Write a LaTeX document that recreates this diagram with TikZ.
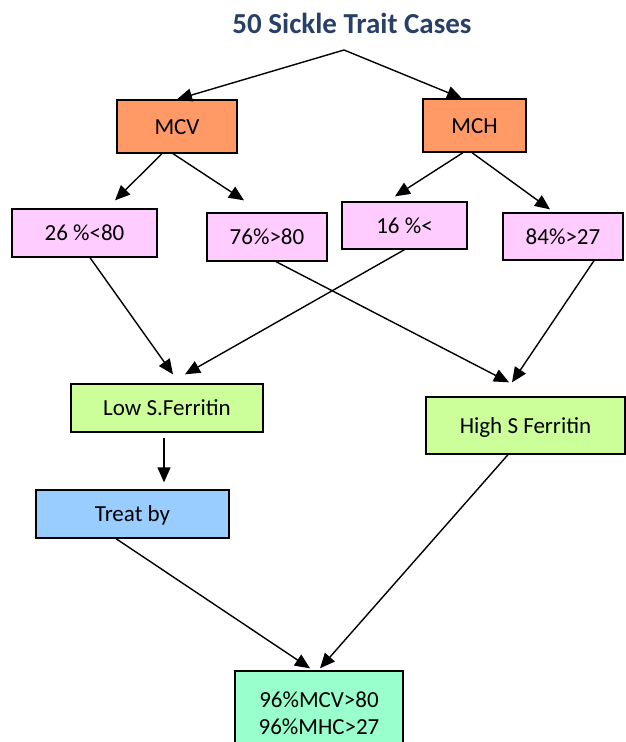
\documentclass[tikz,border=0pt]{standalone}
\usepackage{fontspec}
\setmainfont{Carlito}
\usetikzlibrary{arrows.meta}
\definecolor{title_blue}{RGB}{40,64,104}
\definecolor{orange_box}{RGB}{255,153,102}
\definecolor{pink_box}{RGB}{255,204,255}
\definecolor{green_box}{RGB}{204,255,153}
\definecolor{blue_box}{RGB}{153,204,255}
\definecolor{mint_box}{RGB}{153,255,204}

\begin{document}
\begin{tikzpicture}[x=1pt,y=-1pt,
	box/.style={draw=black,line width=1.3pt,inner sep=0pt,font=\fontsize{23}{28}\selectfont,text height=15pt,text depth=0pt},
	link/.style={black,line width=1.4pt,-{Triangle[length=15pt,width=13pt]}}]
	\useasboundingbox (0,0) rectangle (626,742);
	\clip (0,0) rectangle (626,742);

	\node[anchor=base,text=title_blue,font=\fontsize{29}{34}\selectfont\bfseries] (title) at (352,33) {50 Sickle Trait Cases};
	\coordinate (top) at (344,50);

	\node[box,fill=orange_box,minimum width=120pt,minimum height=53pt] (mcv) at (177,126.5) {MCV};
	\node[box,fill=orange_box,minimum width=103pt,minimum height=53pt] (mch) at (474.5,125.5) {MCH};

	\node[box,fill=pink_box,minimum width=145pt,minimum height=48pt] (p26) at (84.5,233) {26 \%<80};
	\node[box,fill=pink_box,minimum width=120pt,minimum height=48pt] (p76) at (267,237) {76\%>80};
	\node[box,fill=pink_box,minimum width=125pt,minimum height=47pt] (p16) at (404.5,225.5) {16 \%<};
	\node[box,fill=pink_box,minimum width=120pt,minimum height=47pt] (p84) at (563,236.5) {84\%>27};

	\node[box,fill=green_box,minimum width=192pt,minimum height=48pt] (low) at (167,408) {Low S.Ferritin};
	\node[box,fill=green_box,minimum width=199pt,minimum height=57pt] (high) at (525.5,425.5) {High S Ferritin};
	\node[box,fill=blue_box,minimum width=193pt,minimum height=48pt] (treat) at (132.5,514) {Treat by};

	\node[draw=black,line width=1.3pt,fill=mint_box,inner sep=0pt,align=center,
		font=\fontsize{23}{27}\selectfont,minimum width=168pt,minimum height=85pt] (result) at (319,713.5) {96\%MCV>80\\96\%MHC>27};

	% top split
	\draw[link] (top) -- (mcv.north);
	\draw[link] (top) -- ([xshift=-12.5pt]mch.north);

	% MCV and MCH
	\draw[link] ([xshift=-15pt]mcv.south) -- ([xshift=30.5pt,yshift=8pt]p26.north);
	\draw[link] ([xshift=-4pt]mcv.south) -- ([xshift=-23pt,yshift=12pt]p76.north);
	\draw[link] ([xshift=-11.5pt]mch.south) -- ([xshift=-9.5pt,yshift=5pt]p16.north);
	\draw[link] ([xshift=-2.5pt]mch.south) -- ([xshift=-13pt,yshift=3pt]p84.north);

	% to ferritin
	\draw[link] ([xshift=5.5pt]p26.south) -- ([xshift=6pt,yshift=9pt]low.north);
	\draw[link] (p16.south) -- ([xshift=18pt,yshift=9pt]low.north);
	\draw[link] ([xshift=9pt]p76.south) -- ([xshift=-16.5pt,yshift=14pt]high.north);
	\draw[link] ([xshift=31pt]p84.south) -- ([xshift=-13.5pt,yshift=14pt]high.north);

	% treatment and result
	\draw[link] ([xshift=-3pt,yshift=-5pt]low.south) -- ([xshift=31.5pt,yshift=7pt]treat.north);
	\draw[link] ([xshift=-16.5pt]treat.south) -- ([xshift=-9pt,yshift=2pt]result.north);
	\draw[link] ([xshift=-17.5pt]high.south) -- ([xshift=1pt,yshift=2pt]result.north);
\end{tikzpicture}
\end{document}
